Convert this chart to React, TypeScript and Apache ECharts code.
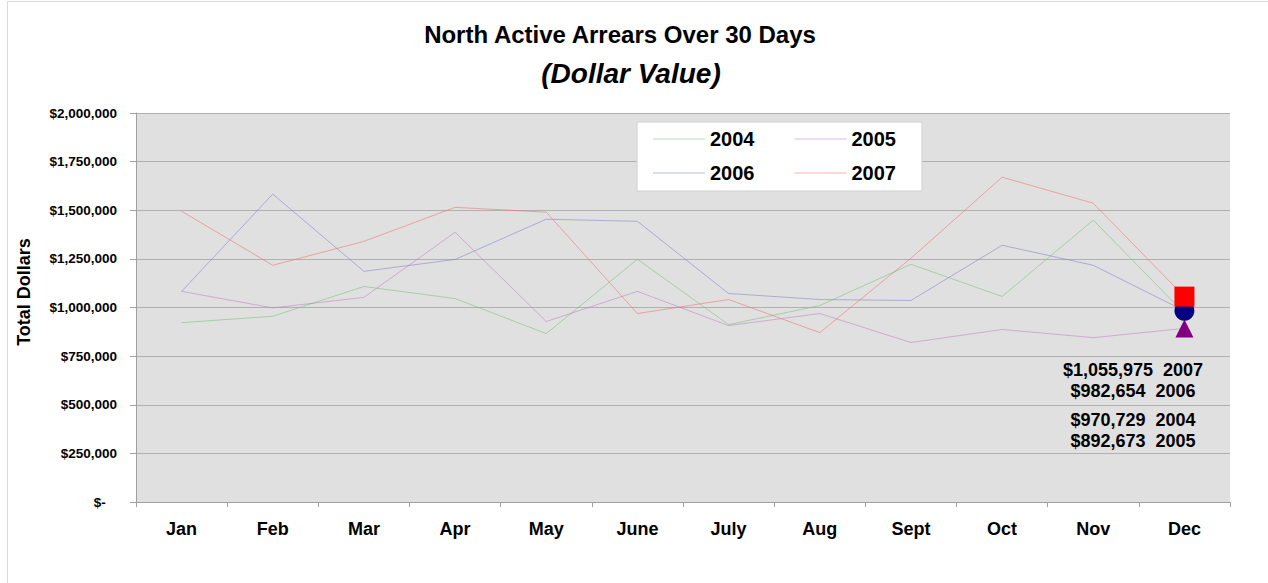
import React, { useEffect, useRef } from "react";
import * as echarts from "echarts";

const months = ["Jan", "Feb", "Mar", "Apr", "May", "June", "July", "Aug", "Sept", "Oct", "Nov", "Dec"];
const years = ["2004", "2005", "2006", "2007"];
const s2004 = [922000, 955000, 1108000, 1046000, 866000, 1248000, 912000, 1010000, 1222000, 1057000, 1449000, 970729];
const s2005 = [1083000, 998000, 1052000, 1387000, 928000, 1083000, 907000, 969000, 820000, 887000, 845000, 892673];
const s2006 = [1083000, 1583000, 1186000, 1247000, 1454000, 1443000, 1072000, 1041000, 1036000, 1320000, 1217000, 982654];
const s2007 = [1495000, 1217000, 1340000, 1515000, 1490000, 969000, 1041000, 871000, 1253000, 1670000, 1536000, 1055975];
const yTicks = [0, 250000, 500000, 750000, 1000000, 1250000, 1500000, 1750000, 2000000];

const FONT = 'Arial, "Liberation Sans", sans-serif';

const fmt = (v: number) => "$" + v.toLocaleString("en-US");

export default function App() {
  const ref = useRef<HTMLDivElement>(null);
  useEffect(() => {
    document.body.style.margin = "0";
    const chart = echarts.init(ref.current!, null, { renderer: "svg" });
    const seriesData = [s2004, s2005, s2006, s2007];
    const lineColors = ["rgba(110,190,110,0.5)", "rgba(190,120,190,0.5)", "rgba(120,120,200,0.5)", "rgba(240,110,110,0.55)"];
    const markers = [
      { symbol: "diamond", size: 8, color: "#008000" },
      { symbol: "triangle", size: 18, color: "#800080" },
      { symbol: "circle", size: 20, color: "#000080" },
      { symbol: "rect", size: 20, color: "#ff0000" },
    ];
    const last = months.length - 1;
    const series = years.map((y, i) => ({
      name: y,
      type: "line",
      symbol: "none",
      lineStyle: { width: 1, color: lineColors[i] },
      itemStyle: { color: lineColors[i] },
      emphasis: { disabled: true },
      data: seriesData[i].map((v, j) =>
        j === last
          ? { value: v, symbol: markers[i].symbol, symbolSize: markers[i].size, itemStyle: { color: markers[i].color } }
          : v
      ),
    }));

    const labelOrder = [3, 2, 0, 1];
    const labelY = [370, 391, 420, 441];
    const labels = labelOrder.map((si, k) => ({
      type: "text",
      x: 1133,
      y: labelY[k],
      style: {
        text: fmt(seriesData[si][last]) + "  " + years[si],
        font: `bold 18px ${FONT}`,
        fill: "#000",
        textAlign: "center",
        textVerticalAlign: "middle",
      },
      z: 10,
    }));

    const legendCommon = {
      left: 653,
      itemWidth: 52,
      itemHeight: 14,
      itemGap: 40,
      padding: 0,
      icon: "path://M0,0H52V1H0Z",
      textStyle: { fontSize: 20, fontWeight: "bold", color: "#000", fontFamily: FONT },
      selectedMode: false,
    };

    chart.setOption({
      animation: false,
      backgroundColor: "#ffffff",
      title: [
        {
          text: "North Active Arrears Over 30 Days",
          left: 615,
          top: 17,
          textAlign: "center",
          textStyle: { fontSize: 24, fontWeight: "bold", color: "#000", fontFamily: FONT },
        },
        {
          text: "(Dollar Value)",
          left: 626,
          top: 54,
          textAlign: "center",
          textStyle: { fontSize: 28, fontWeight: "bold", fontStyle: "italic", color: "#000", fontFamily: FONT },
        },
      ],
      legend: [
        { ...legendCommon, top: 129, data: ["2004", "2005"] },
        { ...legendCommon, top: 163, data: ["2006", "2007"] },
      ],
      grid: {
        left: 136,
        right: 38,
        top: 113,
        bottom: 81,
        show: true,
        backgroundColor: "#e0e0e0",
        borderWidth: 0,
      },
      xAxis: {
        type: "category",
        data: months,
        boundaryGap: true,
        axisLine: { lineStyle: { color: "#a0a0a0" } },
        axisTick: { show: true, length: 5, lineStyle: { color: "#a0a0a0" } },
        axisLabel: { fontSize: 18, fontWeight: "bold", color: "#000", margin: 18, fontFamily: FONT },
        splitLine: { show: false },
      },
      yAxis: {
        type: "value",
        min: yTicks[0],
        max: yTicks[yTicks.length - 1],
        interval: yTicks[1] - yTicks[0],
        axisLine: { show: true, lineStyle: { color: "#a0a0a0" } },
        axisTick: { show: true, length: 6, lineStyle: { color: "#a0a0a0" } },
        axisLabel: {
          fontSize: 13.5,
          fontWeight: "bold",
          color: "#000",
          margin: 19,
          fontFamily: FONT,
          formatter: (v: number) => (v === 0 ? "$-   " : fmt(v)),
        },
        splitLine: { show: true, lineStyle: { color: "#b0b0b0", width: 1 } },
      },
      graphic: [
        {
          type: "rect",
          shape: { x: 7.5, y: 1.5, width: 1400, height: 800 },
          style: { fill: "none", stroke: "#d8d8e6", lineWidth: 1 },
          z: -1,
          silent: true,
        },
        {
          type: "rect",
          shape: { x: 637, y: 122, width: 285, height: 69 },
          style: { fill: "#ffffff", stroke: "#d0d0d0", lineWidth: 1 },
          z: 3,
          silent: true,
        },
        {
          type: "text",
          x: 24,
          y: 292,
          rotation: Math.PI / 2,
          style: {
            text: "Total Dollars",
            font: `bold 18px ${FONT}`,
            fill: "#000",
            textAlign: "center",
            textVerticalAlign: "middle",
          },
        },
        ...labels,
      ],
      series,
    });
    return () => chart.dispose();
  }, []);
  return <div ref={ref} style={{ width: 1268, height: 583 }} />;
}
